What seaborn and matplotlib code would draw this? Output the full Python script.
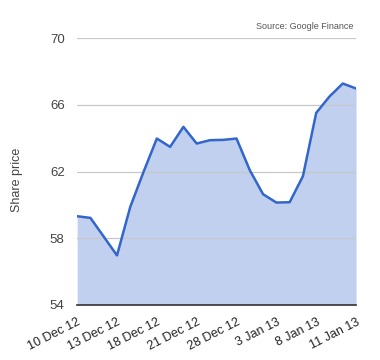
import pandas as pd
import matplotlib.pyplot as plt
import matplotlib.transforms as mtransforms
import seaborn as sns

# Trading days (24 Dec missing from the feed)
dates = ['10 Dec 12', '11 Dec 12', '12 Dec 12', '13 Dec 12', '14 Dec 12', '17 Dec 12',
         '18 Dec 12', '19 Dec 12', '20 Dec 12', '21 Dec 12', '26 Dec 12', '27 Dec 12',
         '28 Dec 12', '31 Dec 12', '2 Jan 13', '3 Jan 13', '4 Jan 13', '7 Jan 13',
         '8 Jan 13', '9 Jan 13', '10 Jan 13', '11 Jan 13']
prices = [59.32, 59.22, 58.10, 56.97, 59.88, 61.98, 63.98, 63.48, 64.68, 63.68, 63.88,
          63.90, 63.98, 62.08, 60.64, 60.14, 60.16, 61.72, 65.52, 66.50, 67.28, 66.98]
tick_labels = ['10 Dec 12', '13 Dec 12', '18 Dec 12', '21 Dec 12',
               '28 Dec 12', '3 Jan 13', '8 Jan 13', '11 Jan 13']
y_ticks = [54, 58, 62, 66, 70]

df = pd.DataFrame({'Date': dates, 'Price': prices})
df['idx'] = range(len(df))

sns.set_style('white')
plt.rcParams['font.family'] = ['Liberation Sans', 'DejaVu Sans']

fig = plt.figure(figsize=(3.8, 3.6), dpi=100)
ax = fig.add_axes([0.203, 0.153, 0.734, 0.741])

ax.fill_between(df['idx'], df['Price'], 54, color='#c0d0ee', linewidth=0, zorder=1)
sns.lineplot(data=df, x='idx', y='Price', color='#3366cc', linewidth=1.8, ax=ax, zorder=3)

ax.set_xlim(0, len(df) - 1)
ax.set_ylim(54, 70)
ax.set_yticks(y_ticks)
ax.set_yticklabels([str(v) for v in y_ticks], fontsize=9.5, color='#444444')
ax.yaxis.grid(True, color='#c8c8c8', linewidth=0.9, zorder=2)
ax.set_axisbelow(False)

pos = [df.index[df['Date'] == d][0] for d in tick_labels]
ax.set_xticks(pos)
ax.set_xticklabels(tick_labels, rotation=27, ha='right', rotation_mode='anchor',
                   fontsize=9, color='#222222')
# nudge the rotated labels a little to the right
shift = mtransforms.ScaledTranslation(6 / 100, 0, fig.dpi_scale_trans)
for lbl in ax.get_xticklabels():
    lbl.set_transform(lbl.get_transform() + shift)

ax.tick_params(axis='both', length=0)
ax.tick_params(axis='y', pad=9)
ax.tick_params(axis='x', pad=8)

for s in ['left', 'right', 'top']:
    ax.spines[s].set_visible(False)
ax.spines['bottom'].set_color('#333333')
ax.spines['bottom'].set_linewidth(1.2)
ax.spines['bottom'].set_zorder(4)

ax.set_xlabel('')
ax.set_ylabel('Share price', fontsize=9, color='#444444')
ax.yaxis.set_label_coords(-0.195, 0.47)

fig.text(0.93, 0.915, 'Source: Google Finance', ha='right', va='bottom',
         fontsize=6.5, color='#555555')

fig.savefig('out.png', dpi=100)
